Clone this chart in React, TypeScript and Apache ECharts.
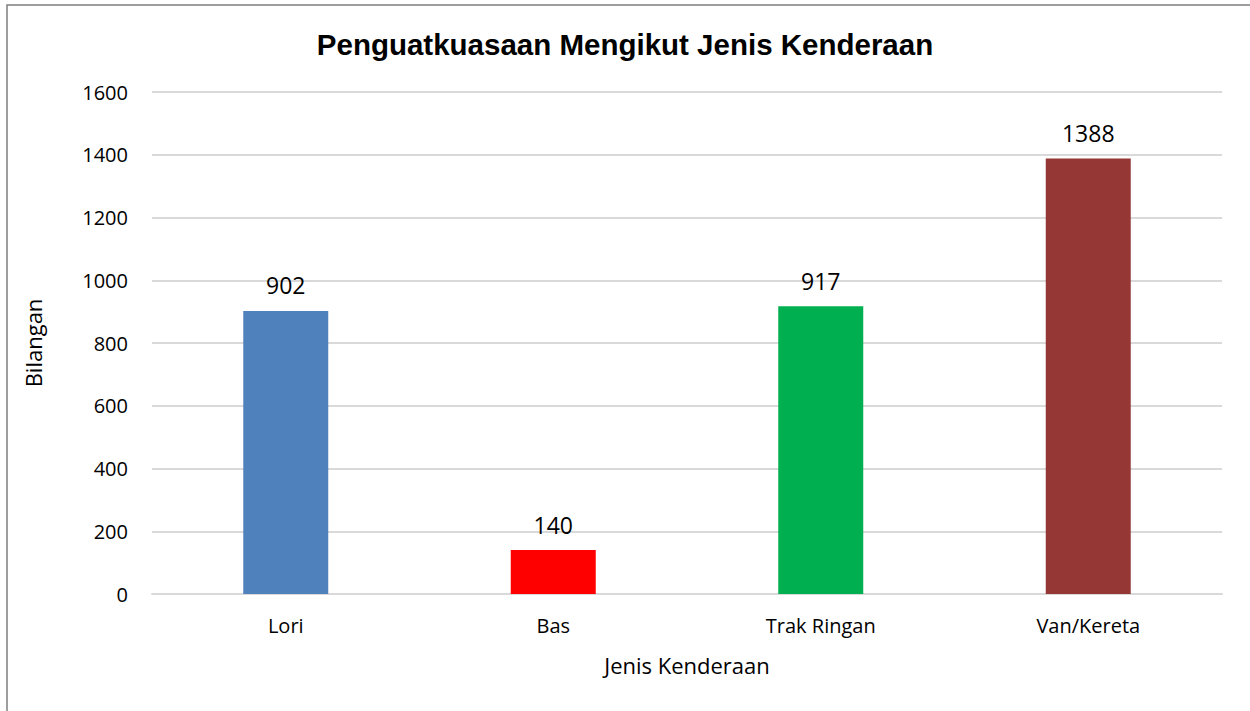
import React, { useEffect, useRef } from "react";
import * as echarts from "echarts";

const categories = ["Lori", "Bas", "Trak Ringan", "Van/Kereta"];
const values = [902, 140, 917, 1388];
const barColors = ["#4F81BD", "#FF0000", "#00B050", "#953735"];
const yTicks = { min: 0, max: 1600, interval: 200 };

export default function App() {
  const ref = useRef<HTMLDivElement>(null);
  useEffect(() => {
    if (!ref.current) return;
    const chart = echarts.init(ref.current, null, { renderer: "svg" });
    const font = "'Open Sans', 'Noto Sans', sans-serif";
    chart.setOption({
      animation: false,
      backgroundColor: "#ffffff",
      title: {
        text: "Penguatkuasaan Mengikut Jenis Kenderaan",
        left: "center",
        top: 24,
        textStyle: { fontFamily: "'Liberation Sans', Arial, sans-serif", fontSize: 29.5, fontWeight: "bold", color: "#000" },
      },
      graphic: [
        {
          type: "rect",
          shape: { x: 7, y: 5, width: 1300, height: 800 },
          style: { fill: "none", stroke: "#7f7f7f", lineWidth: 1.5 },
          silent: true,
        },
      ],
      grid: { left: 152, right: 28, top: 92, bottom: 117 },
      xAxis: {
        type: "category",
        data: categories,
        name: "Jenis Kenderaan",
        nameLocation: "middle",
        nameGap: 60,
        nameTextStyle: { fontFamily: font, fontSize: 22, color: "#000" },
        axisLine: { show: true, lineStyle: { color: "#d9d9d9", width: 2 } },
        axisTick: { show: false },
        axisLabel: { fontFamily: font, fontSize: 20, color: "#000", margin: 21 },
      },
      yAxis: {
        type: "value",
        min: yTicks.min,
        max: yTicks.max,
        interval: yTicks.interval,
        name: "Bilangan",
        nameLocation: "middle",
        nameGap: 108,
        nameTextStyle: { fontFamily: font, fontSize: 22, color: "#000" },
        axisLine: { show: false },
        axisTick: { show: false },
        axisLabel: { fontFamily: font, fontSize: 20, color: "#000", margin: 24, formatter: (v: number) => String(v) },
        splitLine: { lineStyle: { color: "#d9d9d9", width: 2 } },
      },
      series: [
        {
          type: "bar",
          data: values.map((v, i) => ({ value: v, itemStyle: { color: barColors[i] } })),
          barWidth: 85,
          label: {
            show: true,
            position: "top",
            distance: 14,
            fontFamily: font,
            fontSize: 23,
            color: "#000",
          },
        },
      ],
    });
    return () => chart.dispose();
  }, []);
  return (
    <div
      ref={ref}
      style={{ position: "fixed", left: 0, top: 0, width: 1250, height: 711, background: "#fff" }}
    />
  );
}
